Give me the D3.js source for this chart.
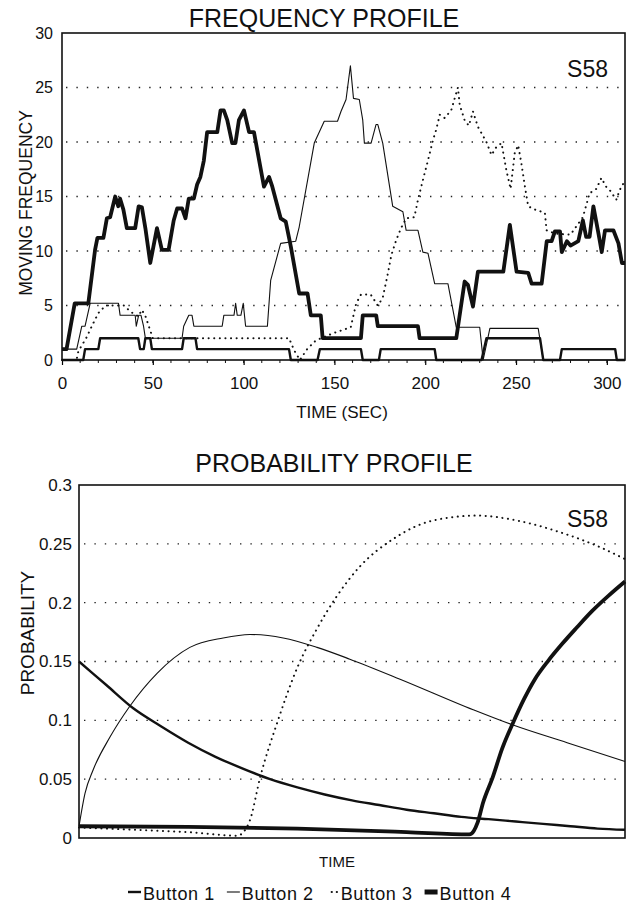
<!DOCTYPE html>
<html>
<head>
<meta charset="utf-8">
<script src="https://cdnjs.cloudflare.com/ajax/libs/d3/7.8.5/d3.min.js"></script>
<style>
body{margin:0;background:#fff;}
svg text{font-family:"Liberation Sans",Arial,Helvetica,sans-serif;fill:#111;}
</style>
</head>
<body>
<div id="chart"></div>
<script>
// series names (legend order)
var seriesNames = ["Button 1","Button 2","Button 3","Button 4"];
var freqTicks = [0,5,10,15,20,25,30];
var timeTicks = [0,50,100,150,200,250,300];
var probTicks = [0,0.05,0.1,0.15,0.2,0.25,0.3];

// frequency profile: [time (sec), moving frequency]
var freqB1 = [[0,0],[11.7,0],[12.7,1],[20,1],[21,2],[42,2],[43,1],[45,1],[45.9,2],[48.6,2],[49.5,1],[66.1,1],[67,2],[73.5,2],[74.4,1],[125,1],[126,0],[140.7,0],[142,1],[164.6,1],[165.6,0],[174.5,0],[175.5,1],[205.2,1],[206.1,0],[231,0],[233.7,2],[263.2,2],[265,0],[274.2,0],[275.2,1],[304.6,1],[305.5,0],[310,0]];
var freqB2 = [[0,1],[8.1,1],[10.9,3.1],[12.7,3.1],[15.5,5.2],[31.1,5.2],[32,4.1],[40.3,4.1],[40.9,3.1],[42.2,4.1],[43.5,4.1],[44.9,3.1],[45.9,2],[66.1,2],[67,3.1],[69.8,4.1],[71.6,4.1],[72.6,3.1],[88.2,3.1],[89.1,4.1],[94.7,4.1],[95.6,5.2],[96.5,4.1],[98.5,4.1],[99.8,5.2],[101.1,3.1],[113.1,3.1],[114.9,7.3],[120.4,10.7],[128.7,10.9],[130.6,12.2],[138.9,19.9],[144.4,21.9],[151.7,21.9],[153.6,22.8],[156.4,23.9],[158.8,27],[160.5,24],[163.7,23.9],[165.6,22],[166.5,19.9],[170.2,19.9],[172.9,21.6],[173.9,21.6],[176.6,19.9],[182.1,14.1],[187.7,13.6],[189.5,11.9],[196,11.9],[198.7,9.9],[201.5,9.8],[205.2,7],[212.5,7],[217.1,3],[230,3],[231.9,0],[235.6,2.9],[262.2,2.9],[265,0],[310,0]];
var freqB3 = [[0,0],[8,0],[9,0.8],[13.6,2.1],[16.4,3.1],[20,4.3],[24,5],[34,5],[38,4.4],[42,4],[44,4.6],[46,4],[48,3],[50,2],[125,2],[127.8,0.9],[131,0],[133,0.5],[135,1],[139.8,1.8],[150,2.5],[159,3],[162,5.2],[164.6,6],[170,6],[173.9,5],[176.6,5.7],[179.5,8],[181.3,9.6],[184,11],[186.7,12.1],[189.5,13],[194,13.1],[196,14.7],[198.7,16.5],[201.5,18.3],[204.3,20.2],[206,21.1],[208,22.5],[210.7,22.2],[214.3,22.9],[216.2,24],[218,25],[219,23.4],[221.7,22],[224,21.5],[226.3,22.8],[229,21.4],[233.7,20],[236.5,18.8],[239,19.5],[242,19.9],[244.7,17.4],[247,15.7],[249.3,19],[251.2,19.7],[253,18],[254.9,15.9],[256.7,14.1],[260.4,13.8],[265.9,13.5],[266.8,11.9],[271.4,11.6],[280,11.5],[286.8,13.1],[290.5,15.3],[294.2,15.7],[297,16.7],[299.6,15.9],[302,15.5],[305.2,14.7],[307.1,15.6],[309.8,16.4]];
var freqB4 = [[0,1],[2.5,1],[7,5.2],[14.5,5.2],[18.2,10.1],[19.5,11.2],[22.8,11.2],[24.7,13],[26.5,13.1],[29.3,15],[31,14.1],[32,14.8],[33.8,13.8],[35.7,12.1],[40.3,12.1],[42.2,14.1],[44,14],[45.9,12.1],[48.6,8.9],[52.3,12.1],[55,10.1],[58.7,10.1],[61.5,12.8],[63.4,13.9],[66.1,13.9],[68,13],[69.8,14.8],[72.6,14.8],[74.4,16.1],[76.2,16.8],[78.1,18.3],[79.9,20.9],[85.5,20.9],[87.3,22.9],[89.1,22.9],[91,22],[93.7,19.9],[95.5,19.9],[97.4,22],[100.2,22.9],[103,20.9],[105.7,20.9],[111.2,15.9],[114,16.8],[115.8,15.9],[120.4,13],[123.2,12.7],[126,10.4],[130.6,6.1],[135.2,6.1],[137,4.1],[142.5,4.1],[143.5,2],[164.6,2],[165.6,4.1],[173,4.1],[173.9,3.1],[196,3.1],[196.9,2],[217.1,2],[221.7,7.2],[223.5,6.9],[226.3,4.9],[229,8.1],[243,8.1],[246.6,12.4],[250.3,8.1],[256.7,8],[258.6,7],[264.1,7],[266.9,10.9],[269.6,10.9],[271.4,11.8],[274.2,11.8],[275.2,9.9],[278,10.9],[280,10.5],[284.3,10.9],[286.8,12.8],[288.6,11.3],[290.5,11.3],[292.6,14.1],[295.4,11.6],[297.2,9.9],[299,11.9],[303.6,11.9],[306.4,10.7],[308.3,8.9],[310,8.9]];

// probability profile: [time (% of session), probability]
var probB1 = [[0,0.150],[5,0.130],[10,0.110],[15,0.095],[20,0.081],[25,0.069],[30,0.059],[35,0.050],[40,0.043],[45,0.037],[50,0.032],[55,0.028],[60,0.024],[65,0.021],[70,0.018],[75,0.016],[80,0.014],[85,0.012],[90,0.010],[95,0.008],[100,0.007]];
var probB2 = [[0,0.010],[1.1,0.038],[2.6,0.058],[5.7,0.086],[9.3,0.112],[14.3,0.140],[20.3,0.162],[26.4,0.170],[31.3,0.173],[37.4,0.170],[43.6,0.162],[49.6,0.152],[58.8,0.135],[72.2,0.109],[79.5,0.096],[89.4,0.081],[100,0.065]];
var probB3 = [[0,0.009],[10,0.007],[20,0.005],[29,0.002],[30.3,0.006],[31.3,0.015],[33.2,0.052],[36.3,0.098],[40,0.145],[43.6,0.178],[47,0.204],[51.5,0.231],[57.5,0.254],[65,0.270],[73,0.274],[80,0.270],[88,0.260],[95,0.248],[100,0.237]];
var probB4 = [[0,0.010],[20,0.0095],[40,0.008],[60,0.005],[71.5,0.003],[72.3,0.006],[73,0.013],[74,0.030],[75.8,0.052],[77.5,0.076],[79.5,0.098],[81.5,0.118],[83.5,0.135],[86,0.151],[88.5,0.165],[91,0.178],[94,0.193],[97,0.206],[100,0.218]];

// line look per button
var lineStyle = [
	{w:2.4, dash:null, cap:"butt"},
	{w:1.1, dash:null, cap:"butt"},
	{w:2.0, dash:"0.1,5.5", cap:"round"},
	{w:3.8, dash:null, cap:"butt"}
];
var drawOrder = [2,1,0,3];

var svg = d3.select("#chart").append("svg").attr("width",632).attr("height",907);

function gridDots(g, ys, x0, x1) {
	ys.forEach(function(y){
		g.append("line").attr("x1",x0).attr("x2",x1).attr("y1",y).attr("y2",y)
			.attr("stroke","#222").attr("stroke-width",1.4).attr("stroke-dasharray","1.4,9");
	});
}

function drawSeries(g, data, line) {
	drawOrder.forEach(function(i){
		var s = lineStyle[i];
		g.append("path").datum(data[i]).attr("d",line).attr("fill","none")
			.attr("stroke","#111").attr("stroke-width",s.w)
			.attr("stroke-linejoin","round").attr("stroke-linecap",s.cap)
			.attr("stroke-dasharray",s.dash);
	});
}

// ---------- FREQUENCY PROFILE ----------
var fx = d3.scaleLinear().domain([0,310]).range([62,625]);
var fy = d3.scaleLinear().domain([0,30]).range([360,33]);
var gTop = svg.append("g");

gTop.append("text").text("FREQUENCY PROFILE").attr("x",324).attr("y",27)
	.attr("text-anchor","middle").attr("font-size","25px");
gridDots(gTop, freqTicks.slice(1,-1).map(fy), 66, 623);

var fxAxis = gTop.append("g").attr("transform","translate(0,360)")
	.call(d3.axisBottom(fx).tickValues(timeTicks).tickSize(5).tickPadding(12));
fxAxis.select(".domain").remove();
fxAxis.selectAll("text").attr("font-size","17px").attr("font-family",null);
fxAxis.selectAll("line").attr("stroke-width",1.2);
gTop.selectAll(".minor").data(d3.range(10,310,10)).enter().append("line")
	.attr("x1",fx).attr("x2",fx).attr("y1",360).attr("y2",363).attr("stroke","#111");

var fyAxis = gTop.append("g").attr("transform","translate(62,0)")
	.call(d3.axisLeft(fy).tickValues(freqTicks).tickSize(0).tickPadding(9));
fyAxis.select(".domain").remove();
fyAxis.selectAll("text").attr("font-size","16px").attr("font-family",null);

gTop.append("text").text("TIME (SEC)").attr("x",342).attr("y",418)
	.attr("text-anchor","middle").attr("font-size","17px");
gTop.append("text").text("MOVING FREQUENCY").attr("transform","translate(32,203) rotate(-90)")
	.attr("text-anchor","middle").attr("font-size","17.5px");

var fline = d3.line().x(function(d){return fx(d[0]);}).y(function(d){return fy(d[1]);});
drawSeries(gTop, [freqB1,freqB2,freqB3,freqB4], fline);

gTop.append("rect").attr("x",62).attr("y",33).attr("width",563).attr("height",327)
	.attr("fill","none").attr("stroke","#111").attr("stroke-width",1.6);
gTop.append("text").text("S58").attr("x",608).attr("y",77)
	.attr("text-anchor","end").attr("font-size","23px");

// ---------- PROBABILITY PROFILE ----------
var px = d3.scaleLinear().domain([0,100]).range([79,625]);
var py = d3.scaleLinear().domain([0,0.3]).range([838,485]);
var gBot = svg.append("g");

gBot.append("text").text("PROBABILITY PROFILE").attr("x",334).attr("y",472)
	.attr("text-anchor","middle").attr("font-size","25px");
gridDots(gBot, probTicks.slice(1,-1).map(py), 84, 623);

var pyAxis = gBot.append("g").attr("transform","translate(79,0)")
	.call(d3.axisLeft(py).tickValues(probTicks).tickFormat(d3.format("")).tickSize(0).tickPadding(7));
pyAxis.select(".domain").remove();
pyAxis.selectAll("text").attr("font-size","17px").attr("font-family",null);

gBot.append("text").text("TIME").attr("x",337).attr("y",867)
	.attr("text-anchor","middle").attr("font-size","15px");
gBot.append("text").text("PROBABILITY").attr("transform","translate(34,633) rotate(-90)")
	.attr("text-anchor","middle").attr("font-size","19px");

var pline = d3.line().curve(d3.curveMonotoneX)
	.x(function(d){return px(d[0]);}).y(function(d){return py(d[1]);});
drawSeries(gBot, [probB1,probB2,probB3,probB4], pline);

gBot.append("rect").attr("x",79).attr("y",485).attr("width",546).attr("height",353)
	.attr("fill","none").attr("stroke","#111").attr("stroke-width",1.6);
gBot.append("text").text("S58").attr("x",608).attr("y",527)
	.attr("text-anchor","end").attr("font-size","23px");

// ---------- LEGEND ----------
var lg = svg.append("g");
var lx = 128, ly = 894;
seriesNames.forEach(function(name,i){
	var s = lineStyle[i];
	if (i == 2) {
		lg.append("line").attr("x1",lx+6).attr("x2",lx+13).attr("y1",ly-2).attr("y2",ly-2)
			.attr("stroke","#111").attr("stroke-width",2.2).attr("stroke-linecap","round").attr("stroke-dasharray","0.1,5");
	} else {
		lg.append("line").attr("x1",lx).attr("x2",lx+13).attr("y1",ly-2).attr("y2",ly-2)
			.attr("stroke","#111").attr("stroke-width",i == 3 ? 5 : s.w);
	}
	var t = lg.append("text").text(name).attr("x",lx+15).attr("y",ly+6)
		.attr("font-size","18px").attr("letter-spacing","0.6px");
	lx = lx + 15 + t.node().getComputedTextLength() + 12;
});
</script>
</body>
</html>
